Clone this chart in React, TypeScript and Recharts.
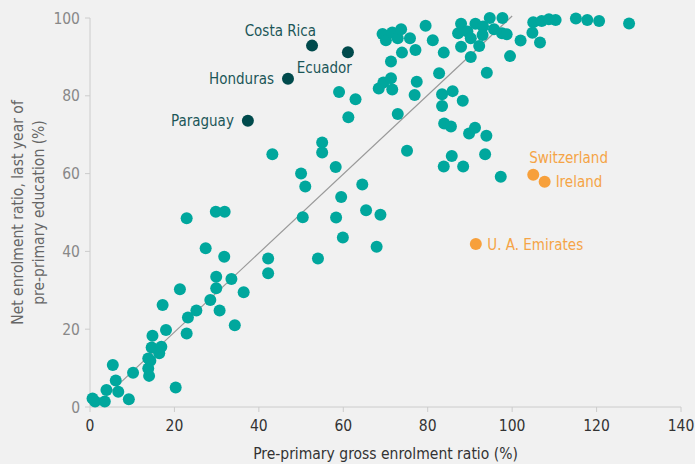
import React from 'react';
import { ScatterChart, Scatter, XAxis, YAxis, ReferenceLine, LabelList, Label } from 'recharts';

const FONT = '"DejaVu Sans Condensed", sans-serif';

const xTicks = [0, 20, 40, 60, 80, 100, 120, 140];
const yTicks = [0, 20, 40, 60, 80, 100];

const xTitle = 'Pre-primary gross enrolment ratio (%)';
const yTitleLines = ['Net enrolment ratio, last year of', 'pre-primary education (%)'];

// [gross enrolment ratio, net enrolment ratio]
const otherCountries: [number, number][] = [
  [0.6, 2.2], [1.2, 1.4], [3.5, 1.4], [3.9, 4.4], [6.7, 3.9], [9.2, 2.0], [6.1, 6.8], [5.4, 10.8],
  [10.2, 8.8], [14.0, 8.0], [13.8, 9.9], [14.3, 11.9], [13.8, 12.5], [16.4, 13.8], [14.6, 15.3],
  [16.9, 15.5], [14.8, 18.3], [18.0, 19.8], [22.9, 18.9], [20.3, 5.0], [23.2, 23.0], [25.2, 24.8],
  [30.7, 24.8], [34.3, 21.0], [17.2, 26.2], [28.5, 27.5], [21.3, 30.3], [29.9, 30.5], [36.4, 29.5],
  [29.9, 33.5], [33.5, 32.9], [42.2, 34.4], [42.2, 38.2], [31.8, 38.6], [27.4, 40.8], [22.9, 48.5],
  [29.8, 50.2], [31.9, 50.2],
  [54.0, 38.2], [59.9, 43.6], [67.9, 41.2], [50.4, 48.8], [58.3, 48.7], [65.4, 50.6], [68.8, 49.4],
  [59.5, 54.0], [51.0, 56.7], [64.5, 57.2], [50.0, 60.0], [58.2, 61.7], [55.0, 65.4], [55.0, 68.0],
  [43.2, 65.0], [61.2, 74.5], [62.9, 79.1], [59.0, 81.0], [72.9, 75.3], [75.1, 65.9],
  [68.4, 81.9], [69.5, 83.4], [71.3, 84.5], [71.6, 81.6], [77.4, 83.6], [76.9, 80.2], [71.3, 88.8],
  [73.9, 91.1], [77.1, 91.8], [69.3, 95.9], [70.1, 94.3], [71.6, 96.3], [72.9, 94.8], [73.7, 97.1],
  [75.8, 94.8], [79.5, 98.0], [81.2, 94.3], [83.8, 91.1], [82.7, 85.8], [83.4, 80.4], [85.9, 81.2],
  [83.4, 77.4], [88.3, 78.7], [83.9, 72.9], [85.5, 72.1], [89.8, 70.3], [91.2, 71.8], [93.9, 69.7],
  [85.7, 64.5], [83.8, 61.8], [88.4, 61.8], [93.6, 65.0], [97.3, 59.2],
  [87.9, 98.5], [87.2, 96.1], [89.4, 96.5], [91.3, 98.5], [93.1, 97.8], [94.7, 100], [97.7, 100],
  [90.2, 94.8], [93.0, 95.6], [87.9, 92.6], [92.2, 92.8], [90.2, 90.0], [95.7, 97.1], [97.6, 96.1],
  [98.7, 95.8], [94.0, 85.9], [99.5, 90.2], [102.0, 94.2], [104.8, 96.2], [106.6, 93.7],
  [105.0, 98.9], [107.0, 99.2], [108.7, 99.7], [110.3, 99.5], [115.1, 99.9], [117.8, 99.5],
  [120.6, 99.2], [127.7, 98.6],
];

const latinNames = ['Costa Rica', 'Ecuador', 'Honduras', 'Paraguay'];
const latinGross = [52.6, 61.1, 46.9, 37.4];
const latinNet = [92.9, 91.2, 84.4, 73.6];

const highNames = ['Switzerland', 'Ireland', 'U. A. Emirates'];
const highGross = [105.0, 107.7, 91.4];
const highNet = [59.7, 57.9, 41.9];

const trendStart = { x: 4, y: 3 };
const trendEnd = { x: 100, y: 100.5 };

// label placement relative to the dot (pixels)
const labelPlacement: Record<string, { dx: number; dy: number; anchor: 'start' | 'end' }> = {
  'Costa Rica': { dx: 4, dy: -15, anchor: 'end' },
  Ecuador: { dx: 4, dy: 15.5, anchor: 'end' },
  Honduras: { dx: -14, dy: 0, anchor: 'end' },
  Paraguay: { dx: -14, dy: 0, anchor: 'end' },
  Switzerland: { dx: -4, dy: -17, anchor: 'start' },
  Ireland: { dx: 11, dy: 0, anchor: 'start' },
  'U. A. Emirates': { dx: 11.5, dy: 1, anchor: 'start' },
};

const otherData = otherCountries.map(([x, y]) => ({ x, y }));
const latinData = latinNames.map((name, i) => ({ name, x: latinGross[i], y: latinNet[i] }));
const highData = highNames.map((name, i) => ({ name, x: highGross[i], y: highNet[i] }));

const TEAL = '#00a79d';
const DARK = '#004a4c';
const ORANGE = '#f7a03b';
const DARK_TEXT = '#1b5658';
const ORANGE_TEXT = '#f5a446';

const dot = (color: string) => (props: any) => (
  <circle cx={props.cx} cy={props.cy} r={6} fill={color} />
);

const makeLabel = (color: string) => (props: any) => {
  const { x, y, width, height, value } = props;
  const p = labelPlacement[value];
  if (!p) return null;
  const cx = x + (width || 0) / 2;
  const cy = y + (height || 0) / 2;
  return (
    <text
      x={cx + p.dx}
      y={cy + p.dy}
      textAnchor={p.anchor}
      dominantBaseline="central"
      fill={color}
      fontSize={15}
      fontFamily={FONT}
    >
      {value}
    </text>
  );
};

const YTitle = (props: any) => {
  const vb = props.viewBox || {};
  const cy = (vb.y || 18) + (vb.height || 389) / 2;
  return (
    <g>
      {yTitleLines.map((line, i) => {
        const x = 18 + i * 21;
        return (
          <text
            key={i}
            x={x}
            y={cy}
            transform={`rotate(-90, ${x}, ${cy})`}
            textAnchor="middle"
            dominantBaseline="central"
            fill="#666"
            fontSize={15.5}
            fontFamily={FONT}
          >
            {line}
          </text>
        );
      })}
    </g>
  );
};

const XTitle = (props: any) => {
  const vb = props.viewBox || {};
  const cx = (vb.x || 90) + (vb.width || 591) / 2;
  return (
    <text
      x={cx}
      y={454}
      textAnchor="middle"
      dominantBaseline="central"
      fill="#333"
      fontSize={15.5}
      fontFamily={FONT}
    >
      {xTitle}
    </text>
  );
};

export default function App() {
  return (
    <div style={{ position: 'absolute', left: 0, top: 0, width: 695, height: 464, background: '#f1f1f1' }}>
      <ScatterChart width={695} height={464} margin={{ top: 18, right: 14, bottom: 0, left: 0 }}>
        <XAxis
          type="number"
          dataKey="x"
          domain={[0, 140]}
          ticks={xTicks}
          interval={0}
          height={57}
          axisLine={{ stroke: '#cccccc' }}
          tickLine={{ stroke: '#cccccc' }}
          tickSize={5}
          tickMargin={8}
          tick={{ fill: '#333', fontSize: 15.5, fontFamily: FONT }}
        >
          <Label content={XTitle} />
        </XAxis>
        <YAxis
          type="number"
          dataKey="y"
          domain={[0, 100]}
          ticks={yTicks}
          interval={0}
          width={90}
          axisLine={{ stroke: '#cccccc' }}
          tickLine={{ stroke: '#cccccc' }}
          tickSize={5}
          tickMargin={5}
          tick={{ fill: '#888', fontSize: 15.5, fontFamily: FONT }}
        >
          <Label content={YTitle} />
        </YAxis>
        <Scatter data={otherData} fill={TEAL} shape={dot(TEAL)} isAnimationActive={false} />
        <Scatter data={latinData} fill={DARK} shape={dot(DARK)} isAnimationActive={false}>
          <LabelList dataKey="name" content={makeLabel(DARK_TEXT)} />
        </Scatter>
        <Scatter data={highData} fill={ORANGE} shape={dot(ORANGE)} isAnimationActive={false}>
          <LabelList dataKey="name" content={makeLabel(ORANGE_TEXT)} />
        </Scatter>
        <ReferenceLine
          segment={[trendStart, trendEnd]}
          stroke="#999"
          strokeWidth={1.2}
          ifOverflow="visible"
        />
      </ScatterChart>
    </div>
  );
}
